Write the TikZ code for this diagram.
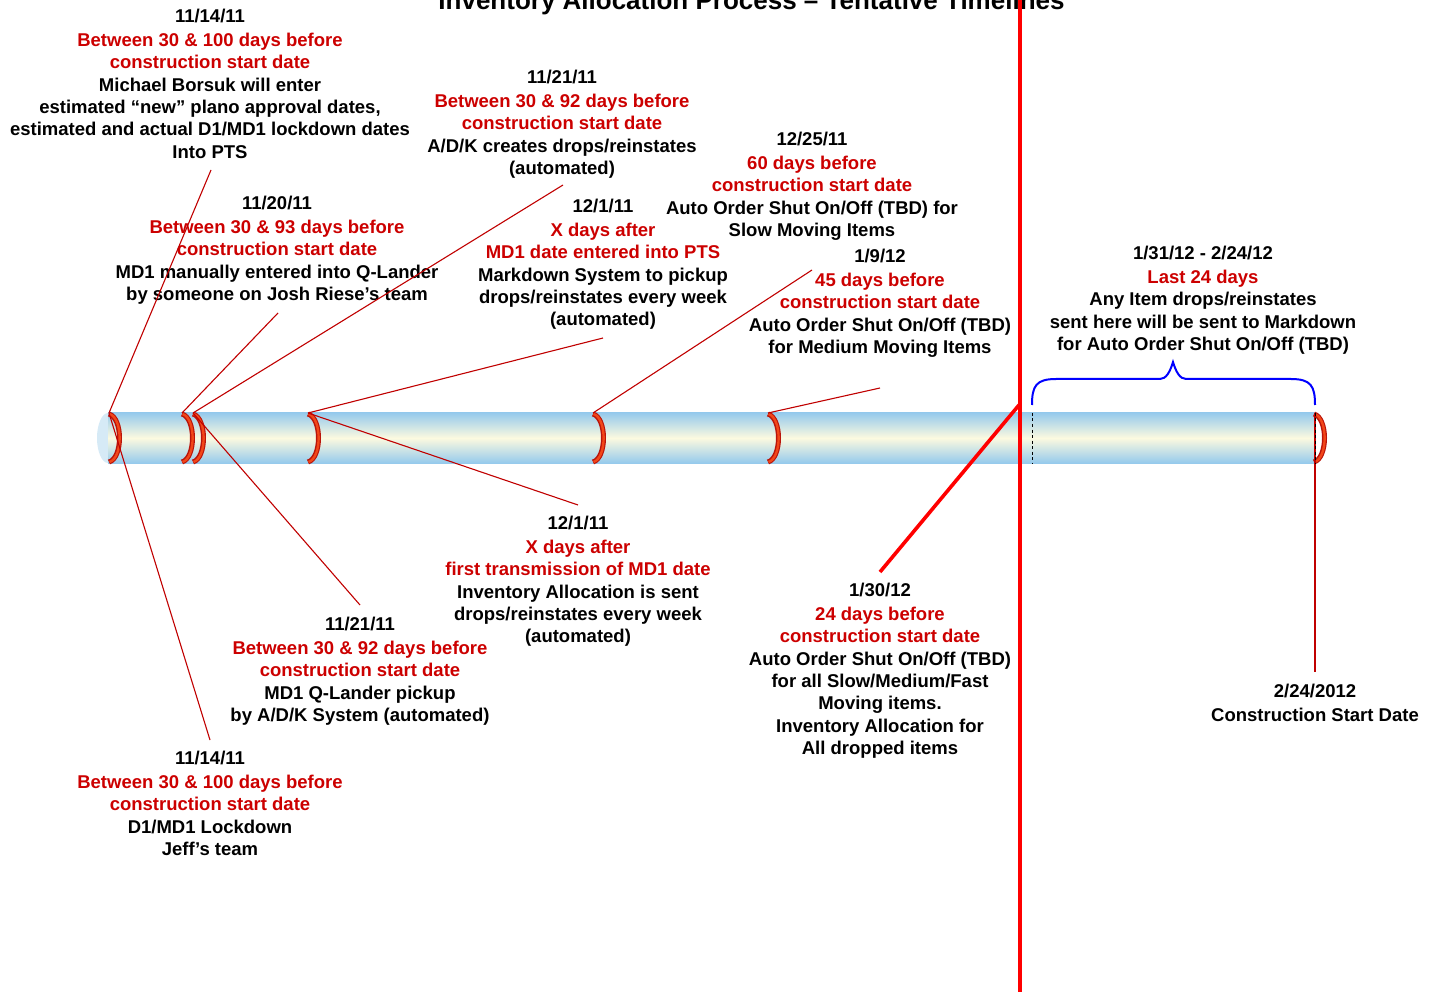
\documentclass[tikz,border=0pt]{standalone}
\usepackage{fontspec}
\setmainfont{Liberation Sans}
\usetikzlibrary{calc}
\definecolor{tred}{RGB}{204,0,0}
\definecolor{leadred}{RGB}{192,0,0}
\definecolor{ringdark}{RGB}{185,20,10}
\definecolor{ringfill}{RGB}{242,70,25}
\definecolor{tubeblue}{RGB}{150,202,236}
\definecolor{tubecream}{RGB}{252,250,224}
\definecolor{capblue}{RGB}{214,234,246}
\newcommand\redt[1]{\textcolor{tred}{#1}}
\tikzset{
  tb/.style={anchor=north, inner sep=0pt, align=center,
    font=\bfseries\fontsize{18.5}{22.4}\selectfont,
    execute at begin node={\rule{0pt}{14pt}}},
  leader/.style={draw=leadred, line width=1.1pt},
  bigred/.style={draw=red, line width=3.6pt},
  ringouter/.style={draw=ringdark, line width=5pt},
  ringinner/.style={draw=ringfill, line width=2.4pt},
  dashmark/.style={draw=black, dashed, line width=0.9pt, dash pattern=on 3pt off 2.5pt},
  bracestyle/.style={draw=blue, line width=2pt},
}
\begin{document}
\begin{tikzpicture}[x=1pt,y=-1pt]
\useasboundingbox (0,0) rectangle (1436,992);
% title
\node[anchor=base, inner sep=0pt, font=\bfseries\fontsize{26}{30}\selectfont] (title) at (751.5,9.5) {Inventory Allocation Process -- Tentative Timelines};
% tube
\fill[capblue] (108,438) ellipse [x radius=11, y radius=25];
\shade[top color=tubeblue, bottom color=tubeblue, middle color=tubecream] (108,413) rectangle (1315,463);
% ring coordinates
\coordinate (r1) at (109,413);
\coordinate (r2) at (182,413);
\coordinate (r3) at (193,413);
\coordinate (r4) at (308,413);
\coordinate (r5) at (593,413);
\coordinate (r6) at (768,413);
\coordinate (r7) at (1314,413);
\foreach \xx in {109,182,193,308,593,768,1314}{
  \draw[ringouter] (\xx,414) .. controls (\xx+14,418) and (\xx+14,458) .. (\xx,462);
  \draw[ringinner] (\xx+0.5,414) .. controls (\xx+14,418) and (\xx+14,458) .. (\xx+0.5,462);
}
% dashed marks
\coordinate (d1t) at (1032,413);
\coordinate (d1b) at (1032,463);
\coordinate (e7) at (1315,672);
\draw[leader] (1315,413) -- (e7);
\draw[dashmark] (d1t) -- (d1b);
\draw[dashmark] (1315,413) -- (1315,463);
% brace
\draw[bracestyle] (1032,405) .. controls (1032,386) and (1036,379) .. (1056,379) -- (1160,379)
  .. controls (1166,379) and (1170,372) .. (1173,362)
  .. controls (1176,372) and (1180,379) .. (1186,379) -- (1291,379)
  .. controls (1311,379) and (1315,386) .. (1315,405);
% text blocks
\node[tb] (t1) at (210,8.6) {11/14/11\\[1.6pt]\redt{Between 30 \& 100 days before}\\\redt{construction start date}\\Michael Borsuk will enter\\estimated “new” plano approval dates,\\estimated and actual D1/MD1 lockdown dates\\Into PTS};
\node[tb] (t2) at (562,69.6) {11/21/11\\[1.6pt]\redt{Between 30 \& 92 days before}\\\redt{construction start date}\\A/D/K creates drops/reinstates\\(automated)};
\node[tb] (t3) at (812,131.6) {12/25/11\\[1.6pt]\redt{60 days before}\\\redt{construction start date}\\Auto Order Shut On/Off (TBD) for\\Slow Moving Items};
\node[tb] (t4) at (277,195.6) {11/20/11\\[1.6pt]\redt{Between 30 \& 93 days before}\\\redt{construction start date}\\MD1 manually entered into Q-Lander\\by someone on Josh Riese’s team};
\node[tb] (t5) at (603,198.6) {12/1/11\\[1.6pt]\redt{X days after}\\\redt{MD1 date entered into PTS}\\Markdown System to pickup\\drops/reinstates every week\\(automated)};
\node[tb] (t6) at (880,248.6) {1/9/12\\[1.6pt]\redt{45 days before}\\\redt{construction start date}\\Auto Order Shut On/Off (TBD)\\for Medium Moving Items};
\node[tb] (t7) at (1203,245.6) {1/31/12 - 2/24/12\\[1.6pt]\redt{Last 24 days}\\Any Item drops/reinstates\\sent here will be sent to Markdown\\for Auto Order Shut On/Off (TBD)};
\node[tb] (t8) at (578,515.6) {12/1/11\\[1.6pt]\redt{X days after}\\\redt{first transmission of MD1 date}\\Inventory Allocation is sent\\drops/reinstates every week\\(automated)};
\node[tb] (t9) at (360,616.6) {11/21/11\\[1.6pt]\redt{Between 30 \& 92 days before}\\\redt{construction start date}\\MD1 Q-Lander pickup\\by A/D/K System (automated)};
\node[tb] (t10) at (880,582.6) {1/30/12\\[1.6pt]\redt{24 days before}\\\redt{construction start date}\\Auto Order Shut On/Off (TBD)\\for all Slow/Medium/Fast\\Moving items.\\Inventory Allocation for\\All dropped items};
\node[tb] (t11) at (1315,683.6) {2/24/2012\\[1.6pt]Construction Start Date};
\node[tb] (t12) at (210,750.6) {11/14/11\\[1.6pt]\redt{Between 30 \& 100 days before}\\\redt{construction start date}\\D1/MD1 Lockdown\\Jeff’s team};
% leader end points
\coordinate (p1) at (211,170);
\coordinate (p12) at (210,740);
\coordinate (p4) at (278,313);
\coordinate (p2) at (563,185);
\coordinate (p9) at (360,605);
\coordinate (p5) at (603,338);
\coordinate (p8) at (578,505);
\coordinate (p6) at (812,270);
\coordinate (p3) at (880,388);
\coordinate (p10) at (880,572);
\coordinate (vtop) at (1020,0);
\coordinate (vbot) at (1020,992);
\coordinate (vmeet) at (1019,405);
\draw[leader] (p1) -- (r1);
\draw[leader] (p12) -- (r1);
\draw[leader] (p4) -- (r2);
\draw[leader] (p2) -- (r3);
\draw[leader] (p9) -- (r3);
\draw[leader] (p5) -- (r4);
\draw[leader] (p8) -- (r4);
\draw[leader] (p6) -- (r5);
\draw[leader] (p3) -- (r6);
\draw[bigred] (p10) -- (vmeet);
\draw[bigred] (vtop) -- (vbot);
\end{tikzpicture}
\end{document}
